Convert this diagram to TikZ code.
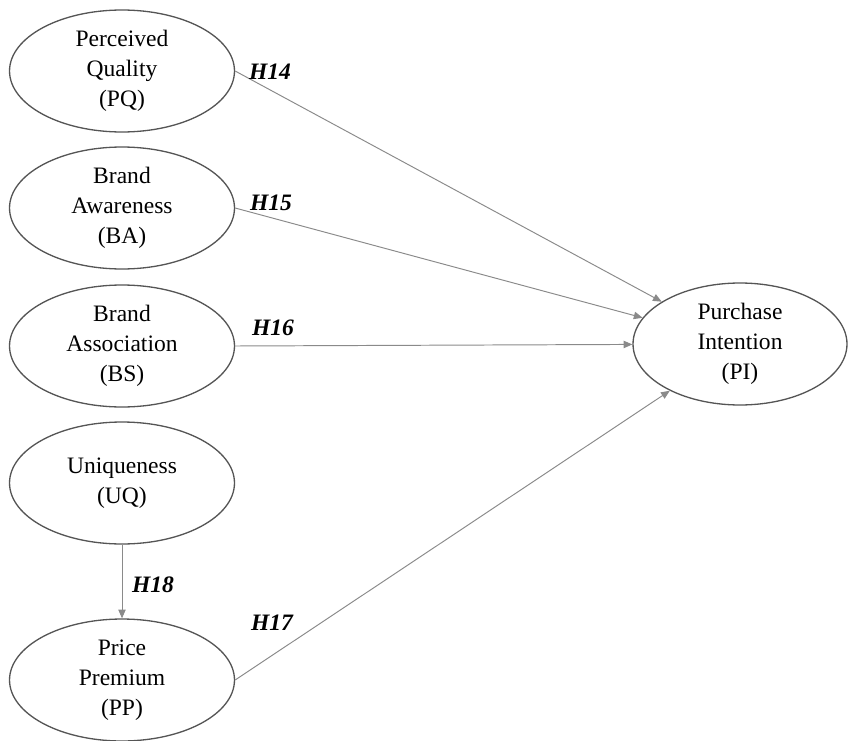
\documentclass[tikz,border=0pt]{standalone}
\usepackage{fontspec}
\setmainfont{Liberation Serif}
\usetikzlibrary{shapes.geometric,arrows.meta}
\definecolor{rimgray}{HTML}{555555}
\definecolor{linkgray}{HTML}{8A8A8A}
\tikzset{
  construct/.style={ellipse,draw=rimgray,line width=0.75pt,minimum width=4.5cm,
    minimum height=2.44cm,inner sep=0pt,align=center,
    font=\fontsize{13.4}{17}\selectfont},
  path/.style={draw=linkgray,line width=0.55pt,
    -{Triangle[length=5pt,width=4.2pt]}},
  hyp/.style={font=\fontsize{13.4}{16}\selectfont\bfseries\itshape}
}
\begin{document}
\begin{tikzpicture}[x=0.02cm,y=-0.02cm]
    \useasboundingbox (0,0) rectangle (848,740);
    % constructs
    \node[construct] (pq) at (122,71) {Perceived\\Quality\\(PQ)};
    \node[construct] (ba) at (122,208) {Brand\\Awareness\\(BA)};
    \node[construct] (bs) at (122,346) {Brand\\Association\\(BS)};
    \node[construct] (uq) at (122,483) {Uniqueness\\(UQ)};
    \node[construct] (pp) at (122,680) {Price\\Premium\\(PP)};
    \node[construct,minimum width=4.28cm] (pi) at (740,344) {Purchase\\Intention\\(PI)};
    % paths
    \draw[path] (pq.east) -- (pi);
    \draw[path] (ba.east) -- (pi);
    \draw[path] (bs.east) -- (pi);
    \draw[path] (pp.east) -- (pi);
    \draw[path] (uq) -- (pp);
    % hypotheses
    \node[hyp] (h14) at (270,72) {H14};
    \node[hyp] (h15) at (271,203) {H15};
    \node[hyp] (h16) at (273,328) {H16};
    \node[hyp] (h17) at (272,623) {H17};
    \node[hyp] (h18) at (153,585) {H18};
\end{tikzpicture}
\end{document}
